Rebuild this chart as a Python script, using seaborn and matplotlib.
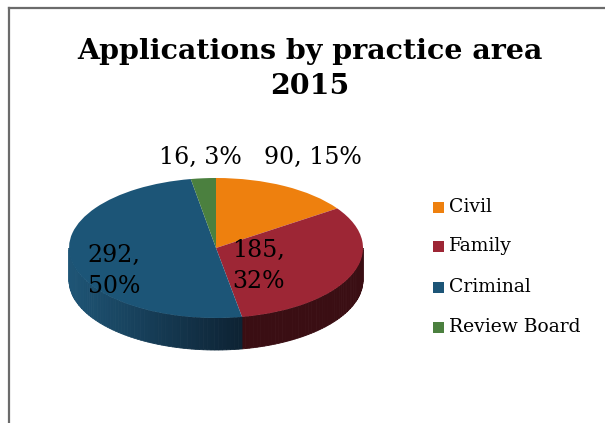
import numpy as np
import matplotlib
matplotlib.use("Agg")
import matplotlib.pyplot as plt
import seaborn as sns
from matplotlib.transforms import Affine2D
from matplotlib.patches import Polygon, Rectangle
from matplotlib.lines import Line2D

# ---- data ----
categories = ["Civil", "Family", "Criminal", "Review Board"]
values = [90, 185, 292, 16]
percent_labels = ["15%", "32%", "50%", "3%"]
title_text = "Applications by practice area\n2015"

sns.set_theme(style="white")
plt.rcParams['font.family'] = ['DejaVu Serif', 'DejaVu Sans']

top_colors = sns.color_palette(["#EE800E", "#9D2635", "#1C5577", "#4B803F"])
side_light = ["#B05F08", "#4C1218", "#1E5576", "#355C2C"]
side_dark = ["#7A4006", "#3A0E13", "#0D2233", "#24401E"]

W, H = 605, 423
fig = plt.figure(figsize=(W / 100, H / 100), dpi=100)
ax = fig.add_axes([0, 0, 1, 1])
ax.set_xlim(0, W)
ax.set_ylim(0, H)
ax.axis("off")

# geometry of the tilted pie (pixel space, y up)
cx, cy = 216, H - 248
rx, ry = 147, 70
depth = 32

total = sum(values)
fracs = [v / total for v in values]

start = 90.0
angles = []
for f in fracs:
    a1 = start - f * 360
    angles.append((a1, start))
    start = a1

def shade(c1, c2, t):
    c1 = np.array(matplotlib.colors.to_rgb(c1))
    c2 = np.array(matplotlib.colors.to_rgb(c2))
    return tuple(c1 * (1 - t) + c2 * t)

# side faces (front visible part)
for i, (a0, a1) in enumerate(angles):
    for k in (-360, 0, 360):
        lo = max(a0 + k, 180)
        hi = min(a1 + k, 360)
        if hi <= lo:
            continue
        n = max(int((hi - lo) / 1.5), 2)
        ts = np.linspace(lo, hi, n + 1)
        for j in range(n):
            t0, t1 = ts[j], ts[j + 1]
            tt = np.linspace(t0, t1, 4)
            xs = cx + rx * np.cos(np.radians(tt))
            ys = cy + ry * np.sin(np.radians(tt))
            pts = list(zip(xs, ys)) + list(zip(xs[::-1], ys[::-1] - depth))
            frac_pos = (np.cos(np.radians((t0 + t1) / 2)) + 1) / 2
            col = shade(side_light[i], side_dark[i], min(1, frac_pos * 1.7))
            ax.add_patch(Polygon(pts, closed=True, facecolor=col,
                                 edgecolor=col, linewidth=0.6, zorder=2))

# top face: seaborn palette + matplotlib pie, squashed into an ellipse
wedges, _ = ax.pie(values, colors=top_colors, startangle=90,
                   counterclock=False, radius=1, center=(0, 0), frame=True,
                   wedgeprops=dict(linewidth=0))
tr = Affine2D().scale(rx, ry).translate(cx, cy) + ax.transData
for w in wedges:
    w.set_transform(tr)
    w.set_zorder(3)
ax.set_xlim(0, W)
ax.set_ylim(0, H)
ax.set_aspect("auto")
ax.axis("off")

# data labels
lab_font = 17
label_pos = [(313, 157), (259, 266), (114, 271), (200, 157)]
for i, (px, py) in enumerate(label_pos):
    if categories[i] in ("Family", "Criminal"):
        txt = f"{values[i]},\n{percent_labels[i]}"
    else:
        txt = f"{values[i]}, {percent_labels[i]}"
    ax.text(px, H - py, txt, ha="center", va="center", fontsize=lab_font,
            color="black", linespacing=1.4, zorder=5)

# title
ax.text(310, H - 69, title_text, ha="center", va="center", fontsize=20.5,
        fontweight="bold", color="black", linespacing=1.35, zorder=5)

# legend
leg_y = [207, 246, 287, 327]
for i, cat in enumerate(categories):
    y = H - leg_y[i]
    ax.add_patch(Rectangle((433, y - 5.5), 11, 11, facecolor=top_colors[i],
                           edgecolor="none", zorder=5))
    ax.text(449, y, cat, ha="left", va="center", fontsize=13.5,
            color="black", zorder=5)

# chart border (extends beyond right and bottom edges)
ax.add_line(Line2D([9, 9], [-5, H - 8], color="#6b6b6b", linewidth=1.6,
                   zorder=6, solid_capstyle="projecting"))
ax.add_line(Line2D([9, W + 5], [H - 8, H - 8], color="#6b6b6b",
                   linewidth=1.6, zorder=6, solid_capstyle="projecting"))

fig.savefig("out.png", dpi=100, facecolor="white")
